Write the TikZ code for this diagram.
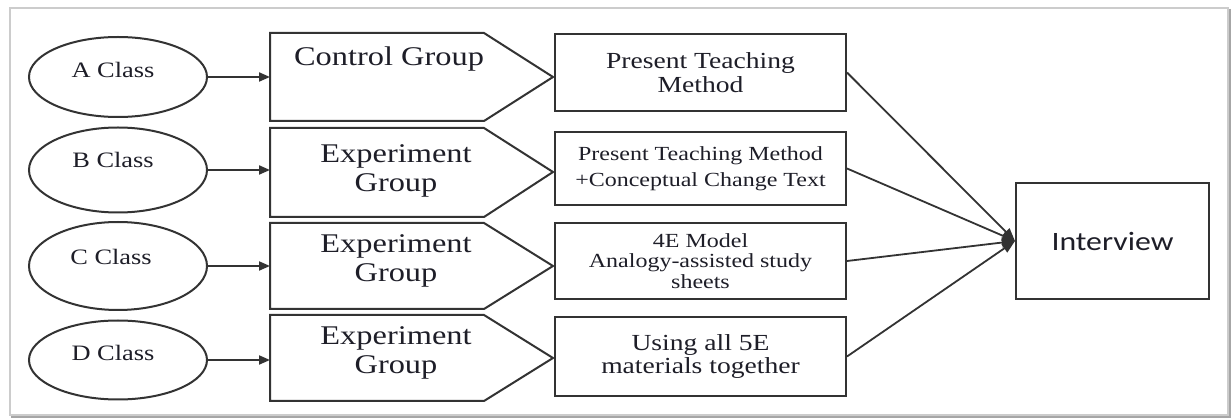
\documentclass[tikz,border=0pt]{standalone}
\usepackage{fontspec}
\setmainfont{Liberation Serif}[FakeStretch=1.2]
\newfontfamily\ivfont{Carlito}[FakeStretch=1.2]
\usetikzlibrary{arrows.meta,shapes.geometric}
\definecolor{ln}{HTML}{333333}
\definecolor{tx}{HTML}{1E1E28}
\begin{document}
\begin{tikzpicture}[x=1pt,y=-1pt,
  shp/.style={draw=ln, line width=2pt},
  cls/.style={shp, ellipse, inner sep=0pt, minimum width=178pt},
  ctext/.style={text=tx, font=\fontsize{22}{24}\selectfont, inner sep=0pt},
  gtext/.style={text=tx, font=\fontsize{27}{29}\selectfont, align=center, inner sep=0pt},
  pbox/.style={shp, rectangle, minimum width=291pt, text=tx, align=center, inner sep=0pt},
  arr/.style={draw=ln, line width=2pt, -{Triangle[length=11pt,width=9pt]}},
  farr/.style={draw=ln, line width=1.8pt, -{Triangle[length=13pt,width=10pt]}}
]
\useasboundingbox (0,0) rectangle (1232,419);
% frame
\fill[white] (0,0) rectangle (1232,419);
\draw[gray!40, line width=1.2pt] (10,8) rectangle (1228,415);
\draw[gray!70, line width=2pt] (1230,9) -- (1230,417) -- (11,417);

% class ellipses
\node[cls, minimum height=80pt] (eA) at (118,77) {};
\node[cls, minimum height=85pt] (eB) at (118,170) {};
\node[cls, minimum height=88pt] (eC) at (118,266) {};
\node[cls, minimum height=79pt] (eD) at (118,360) {};
\node[ctext] (tA) at (113,70) {A Class};
\node[ctext] (tB) at (113,160) {B Class};
\node[ctext] (tC) at (111,257) {C Class};
\node[ctext] (tD) at (113,353) {D Class};

% group pentagons
\draw[shp, line join=miter] (270,33) -- (484,33) -- (553,77) -- (484,121) -- (270,121) -- cycle;
\draw[shp, line join=miter] (270,128) -- (484,128) -- (553,172) -- (484,217) -- (270,217) -- cycle;
\draw[shp, line join=miter] (270,223) -- (484,223) -- (553,266) -- (484,309) -- (270,309) -- cycle;
\draw[shp, line join=miter] (270,315) -- (484,315) -- (553,358) -- (484,401) -- (270,401) -- cycle;
\coordinate (gA) at (270,77);
\coordinate (gB) at (270,170);
\coordinate (gC) at (270,266);
\coordinate (gD) at (270,360);
\node[gtext] (gtA) at (389,59.5) {Control Group};
\node[gtext] (gtB) at (396,171) {Experiment\\Group};
\node[gtext] (gtC) at (396,261) {Experiment\\Group};
\node[gtext] (gtD) at (396,353) {Experiment\\Group};

\draw[arr] (eA.east) -- (gA);
\draw[arr] (eB.east) -- (gB);
\draw[arr] (eC.east) -- (gC);
\draw[arr] (eD.east) -- (gD);

% method boxes
\node[pbox, minimum height=77pt, font=\fontsize{23}{23.5}\selectfont] (pA) at (700.5,72.5) {Present Teaching\\Method};
\node[pbox, minimum height=73pt, font=\fontsize{20}{26}\selectfont] (pB) at (700.5,168.5) {Present Teaching Method\\+Conceptual Change Text};
\node[pbox, minimum height=76pt, font=\fontsize{20}{20.5}\selectfont] (pC) at (700.5,261) {4E Model\\Analogy-assisted study\\sheets};
\node[pbox, minimum height=79pt, font=\fontsize{23}{23}\selectfont] (pD) at (700.5,356.5) {Using all 5E\\materials together};

% interview
\node[shp, rectangle, minimum width=193pt, minimum height=116pt, text=tx, font=\ivfont\fontsize{26.5}{28}\selectfont] (iv) at (1112.5,241) {Interview};

\draw[farr] (pA.east) -- (iv.west);
\draw[farr] (pB.east) -- (iv.west);
\draw[farr] (pC.east) -- (iv.west);
\draw[farr] (pD.east) -- (iv.west);
\end{tikzpicture}
\end{document}
